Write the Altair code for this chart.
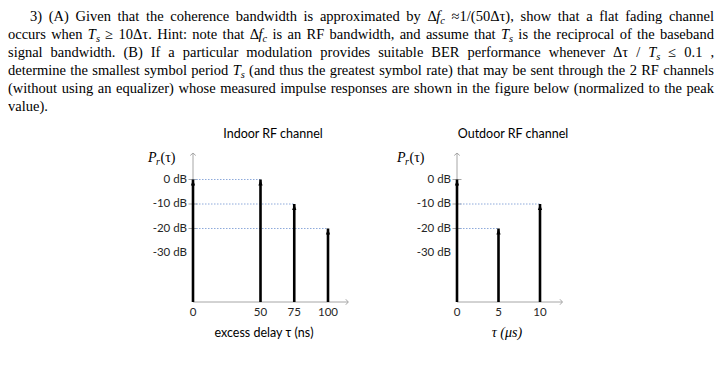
import altair as alt
import pandas as pd

# ---------------- data ----------------
INDOOR_DELAY_NS = [0, 50, 75, 100]
INDOOR_POWER_DB = [0, 0, -10, -20]
OUTDOOR_DELAY_US = [0, 5, 10]
OUTDOOR_POWER_DB = [0, -20, -10]

Y_TICK_VALUES = [0, -10, -20, -30]
Y_TICK_LABELS = ["0 dB", "-10 dB", "-20 dB", "-30 dB"]
Y_TICK_MARKS = [0, -10, -20]
INDOOR_X_TICKS = [0, 50, 75, 100]
OUTDOOR_X_TICKS = [0, 5, 10]

PANEL_TITLES = ["Indoor RF channel", "Outdoor RF channel"]
X_TITLES = ["excess delay  τ (ns)", "τ (μs)"]

LINE1 = [("3) (A) Given that the coherence bandwidth is approximated by ", "r"), ("Δ", "r"), ("f", "i"), ("c", "sub"),
         (" ≈1/(50Δτ), show that a flat fading channel", "r")]
LINE2 = [("occurs when ", "r"), ("T", "i"), ("s", "sub"), (" ≥ 10Δτ. Hint: note that ", "r"), ("Δ", "r"), ("f", "i"),
         ("c", "sub"), (" is an RF bandwidth, and assume that ", "r"), ("T", "i"), ("s", "sub"),
         (" is the reciprocal of the baseband", "r")]
LINE3 = [("signal bandwidth. (B) If a particular modulation provides suitable BER performance whenever Δτ / ", "r"),
         ("T", "i"), ("s", "sub"), (" ≤ 0.1 ,", "r")]
LINE4 = [("determine the smallest symbol period ", "r"), ("T", "i"), ("s", "sub"),
         (" (and thus the greatest symbol rate) that may be sent through the 2 RF channels", "r")]
LINE5 = [("(without using an equalizer) whose measured impulse responses are shown in the figure below (normalized to the peak", "r")]
LINE6 = [("value).", "r")]
TEXT_LINES = [LINE1, LINE2, LINE3, LINE4, LINE5, LINE6]

# ---------------- text layout (justified paragraph) ----------------
W = dict(zip(" !\"#$%&'()*+,-./0123456789:;<=>?",
             [250, 333, 408, 500, 500, 833, 778, 333, 333, 333, 500, 564, 250, 333, 250, 278] + [500] * 10 +
             [278, 278, 564, 564, 564, 444]))
W.update(dict(zip("ABCDEFGHIJKLMNOPQRSTUVWXYZ",
                  [722, 667, 667, 722, 611, 556, 722, 722, 333, 389, 722, 611, 889, 722, 722, 556, 722, 667, 556,
                   611, 722, 722, 944, 722, 722, 611])))
W.update(dict(zip("abcdefghijklmnopqrstuvwxyz",
                  [444, 500, 444, 500, 444, 333, 500, 500, 278, 278, 500, 278, 778, 500, 500, 500, 500, 333, 389,
                   278, 500, 500, 722, 500, 500, 444])))
W.update({"Δ": 612, "τ": 440, "≈": 549, "≥": 549, "≤": 549})
W_IT = {"T": 556, "f": 278, "s": 389, "c": 444}


def em_width(txt, st):
    return sum((W_IT.get(ch, W.get(ch, 500)) if st != "r" else W.get(ch, 500)) for ch in txt) / 1000.0


def split_words(frags):
    words, cur = [], []
    for txt, st in frags:
        for k, p in enumerate(txt.split(" ")):
            if k > 0 and cur:
                words.append(cur)
                cur = []
            if p:
                cur.append((p, st))
    if cur:
        words.append(cur)
    return words


LEFTS = [22, 0, 0, 0, 0, 0]
RIGHT = 706
BASE0, LSTEP = 12.5, 18.0
SUB_RATIO = 0.72

all_words = [split_words(l) for l in TEXT_LINES]
FS = 14.5
for i, ws in enumerate(all_words[:-1]):
    em = sum(em_width(p, st) * (SUB_RATIO if st == "sub" else 1) for w in ws for p, st in w)
    FS = min(FS, (RIGHT - LEFTS[i]) / (em + 0.2 * (len(ws) - 1)))
SUBFS = FS * SUB_RATIO

rows = []
for i, ws in enumerate(all_words):
    wws = [sum(em_width(p, st) * (SUBFS if st == "sub" else FS) for p, st in w) for w in ws]
    if i < len(all_words) - 1:
        gap = (RIGHT - LEFTS[i] - sum(wws)) / (len(ws) - 1)
    else:
        gap = 0.25 * FS
    x = LEFTS[i]
    yb = BASE0 + LSTEP * i
    for w, ww in zip(ws, wws):
        xx = x
        for p, st in w:
            rows.append({"x": xx, "y": yb + (3.5 if st == "sub" else 0), "t": p, "st": st})
            xx += em_width(p, st) * (SUBFS if st == "sub" else FS)
        x += ww + gap
text_df = pd.DataFrame(rows)

SERIF = "Liberation Serif"
SANS = "Lato"


def text_layer(st, size, style):
    return alt.Chart(text_df[text_df.st == st]).mark_text(
        align="left", baseline="alphabetic", font=SERIF, fontSize=size, fontStyle=style, color="#000"
    ).encode(x=alt.X("x:Q", scale=None, axis=None), y=alt.Y("y:Q", scale=None, axis=None), text="t:N")


text_layers = [text_layer("r", FS, "normal"), text_layer("i", FS, "italic"), text_layer("sub", SUBFS, "italic")]

# ---------------- panels ----------------
YS = alt.Scale(domain=[-50, 0], range=[294, 171.5], zero=False, nice=False)
GRAY = "#a6a6a6"
Y_TOP = 10.8
BASE = -50


def panel(delays, powers, xticks, xdomain_max, xrange, x_end, title, xtitle, title_x, pr_x, xtitle_font):
    xs = alt.Scale(domain=[0, xdomain_max], range=xrange, zero=False, nice=False)
    stems = pd.DataFrame({"d": delays, "p": powers, "zero": 0, "base": BASE})
    dotted = stems[stems.d > 0]
    yaxis = pd.DataFrame({"x": [0], "y1": [BASE], "y2": [Y_TOP]})
    xaxis = pd.DataFrame({"y": [BASE], "x1": [0], "x2": [x_end]})
    yt = pd.DataFrame({"v": Y_TICK_VALUES, "lab": Y_TICK_LABELS, "zero": 0})
    ym = pd.DataFrame({"v": Y_TICK_MARKS, "zero": 0})
    xt = pd.DataFrame({"v": xticks, "lab": [str(v) for v in xticks], "base": BASE})

    X = lambda f: alt.X(f, scale=xs, axis=None)
    Y = lambda f: alt.Y(f, scale=YS, axis=None)
    layers = [
        alt.Chart(yaxis).mark_rule(color=GRAY, strokeWidth=1).encode(x=X("x:Q"), y=Y("y1:Q"), y2="y2:Q"),
        alt.Chart(xaxis).mark_rule(color=GRAY, strokeWidth=1).encode(y=Y("y:Q"), x=X("x1:Q"), x2="x2:Q"),
        alt.Chart(yaxis).mark_point(shape="M-1,0.9L0,0L1,0.9", filled=False, size=30, color=GRAY, strokeWidth=1,
                                    opacity=1).encode(x=X("x:Q"), y=Y("y2:Q")),
        alt.Chart(xaxis).mark_point(shape="M-0.9,-1L0,0L-0.9,1", filled=False, size=30, color=GRAY, strokeWidth=1,
                                    opacity=1).encode(x=X("x2:Q"), y=Y("y:Q")),
        alt.Chart(ym).mark_tick(orient="horizontal", size=9, thickness=1, color=GRAY, opacity=1).encode(
            x=X("zero:Q"), y=Y("v:Q")),
        alt.Chart(dotted).mark_rule(color="#8eaadb", strokeWidth=1, strokeDash=[1.5, 1.5]).encode(
            y=Y("p:Q"), x=X("zero:Q"), x2="d:Q"),
        alt.Chart(stems).mark_rule(color="#000", strokeWidth=2.6).encode(x=X("d:Q"), y=Y("base:Q"), y2="p:Q"),
        alt.Chart(stems).mark_point(shape="M0,-1L0.65,0.8L-0.65,0.8Z", filled=True, size=42, color="#000",
                                    opacity=1, yOffset=3.5).encode(x=X("d:Q"), y=Y("p:Q")),
        alt.Chart(yt).mark_text(align="right", baseline="middle", dx=-6, font=SANS, fontSize=11.5,
                                color="#262626").encode(x=X("zero:Q"), y=Y("v:Q"), text="lab:N"),
        alt.Chart(xt).mark_text(align="center", baseline="top", dy=5, font=SANS, fontSize=11.5,
                                color="#262626").encode(x=X("v:Q"), y=Y("base:Q"), text="lab:N"),
    ]
    ann = [
        alt.Chart(pd.DataFrame({"t": [title]})).mark_text(align="center", baseline="middle", font=SANS, fontSize=12.5,
                                                          color="#000").encode(
            x=alt.value(title_x), y=alt.value(126), text="t:N"),
        alt.Chart(pd.DataFrame({"t": ["P"]})).mark_text(align="left", baseline="alphabetic", font=SERIF, fontSize=14,
                                                        fontStyle="italic", color="#000").encode(
            x=alt.value(pr_x), y=alt.value(154), text="t:N"),
        alt.Chart(pd.DataFrame({"t": ["r"]})).mark_text(align="left", baseline="alphabetic", font=SERIF, fontSize=10,
                                                        fontStyle="italic", color="#000").encode(
            x=alt.value(pr_x + 8), y=alt.value(157), text="t:N"),
        alt.Chart(pd.DataFrame({"t": ["(τ)"]})).mark_text(align="left", baseline="alphabetic", font=SERIF,
                                                          fontSize=14, color="#000").encode(
            x=alt.value(pr_x + 12.5), y=alt.value(154), text="t:N"),
        alt.Chart(pd.DataFrame({"t": [xtitle]})).mark_text(align="center", baseline="middle", font=xtitle_font[0],
                                                           fontSize=xtitle_font[1], fontStyle=xtitle_font[2],
                                                           color="#000").encode(
            x=alt.value(xtitle_font[3]), y=alt.value(325), text="t:N"),
    ]
    return layers + ann


indoor = panel(INDOOR_DELAY_NS, INDOOR_POWER_DB, INDOOR_X_TICKS, 100, [185, 320], 115, PANEL_TITLES[0],
               X_TITLES[0], 265, 140, (SANS, 12.5, "normal", 256))
outdoor = panel(OUTDOOR_DELAY_US, OUTDOOR_POWER_DB, OUTDOOR_X_TICKS, 10, [449, 532], 12.7, PANEL_TITLES[1],
                X_TITLES[1], 505, 389, (SERIF, 14, "italic", 499))

chart = alt.layer(*(text_layers + indoor + outdoor)).resolve_scale(
    x="independent", y="independent"
).properties(
    width=710, height=350, padding=0, autosize=alt.AutoSizeParams(type="none")
).configure_view(stroke=None)

chart.save("out.html", embed_options={"renderer": "svg", "actions": False})
